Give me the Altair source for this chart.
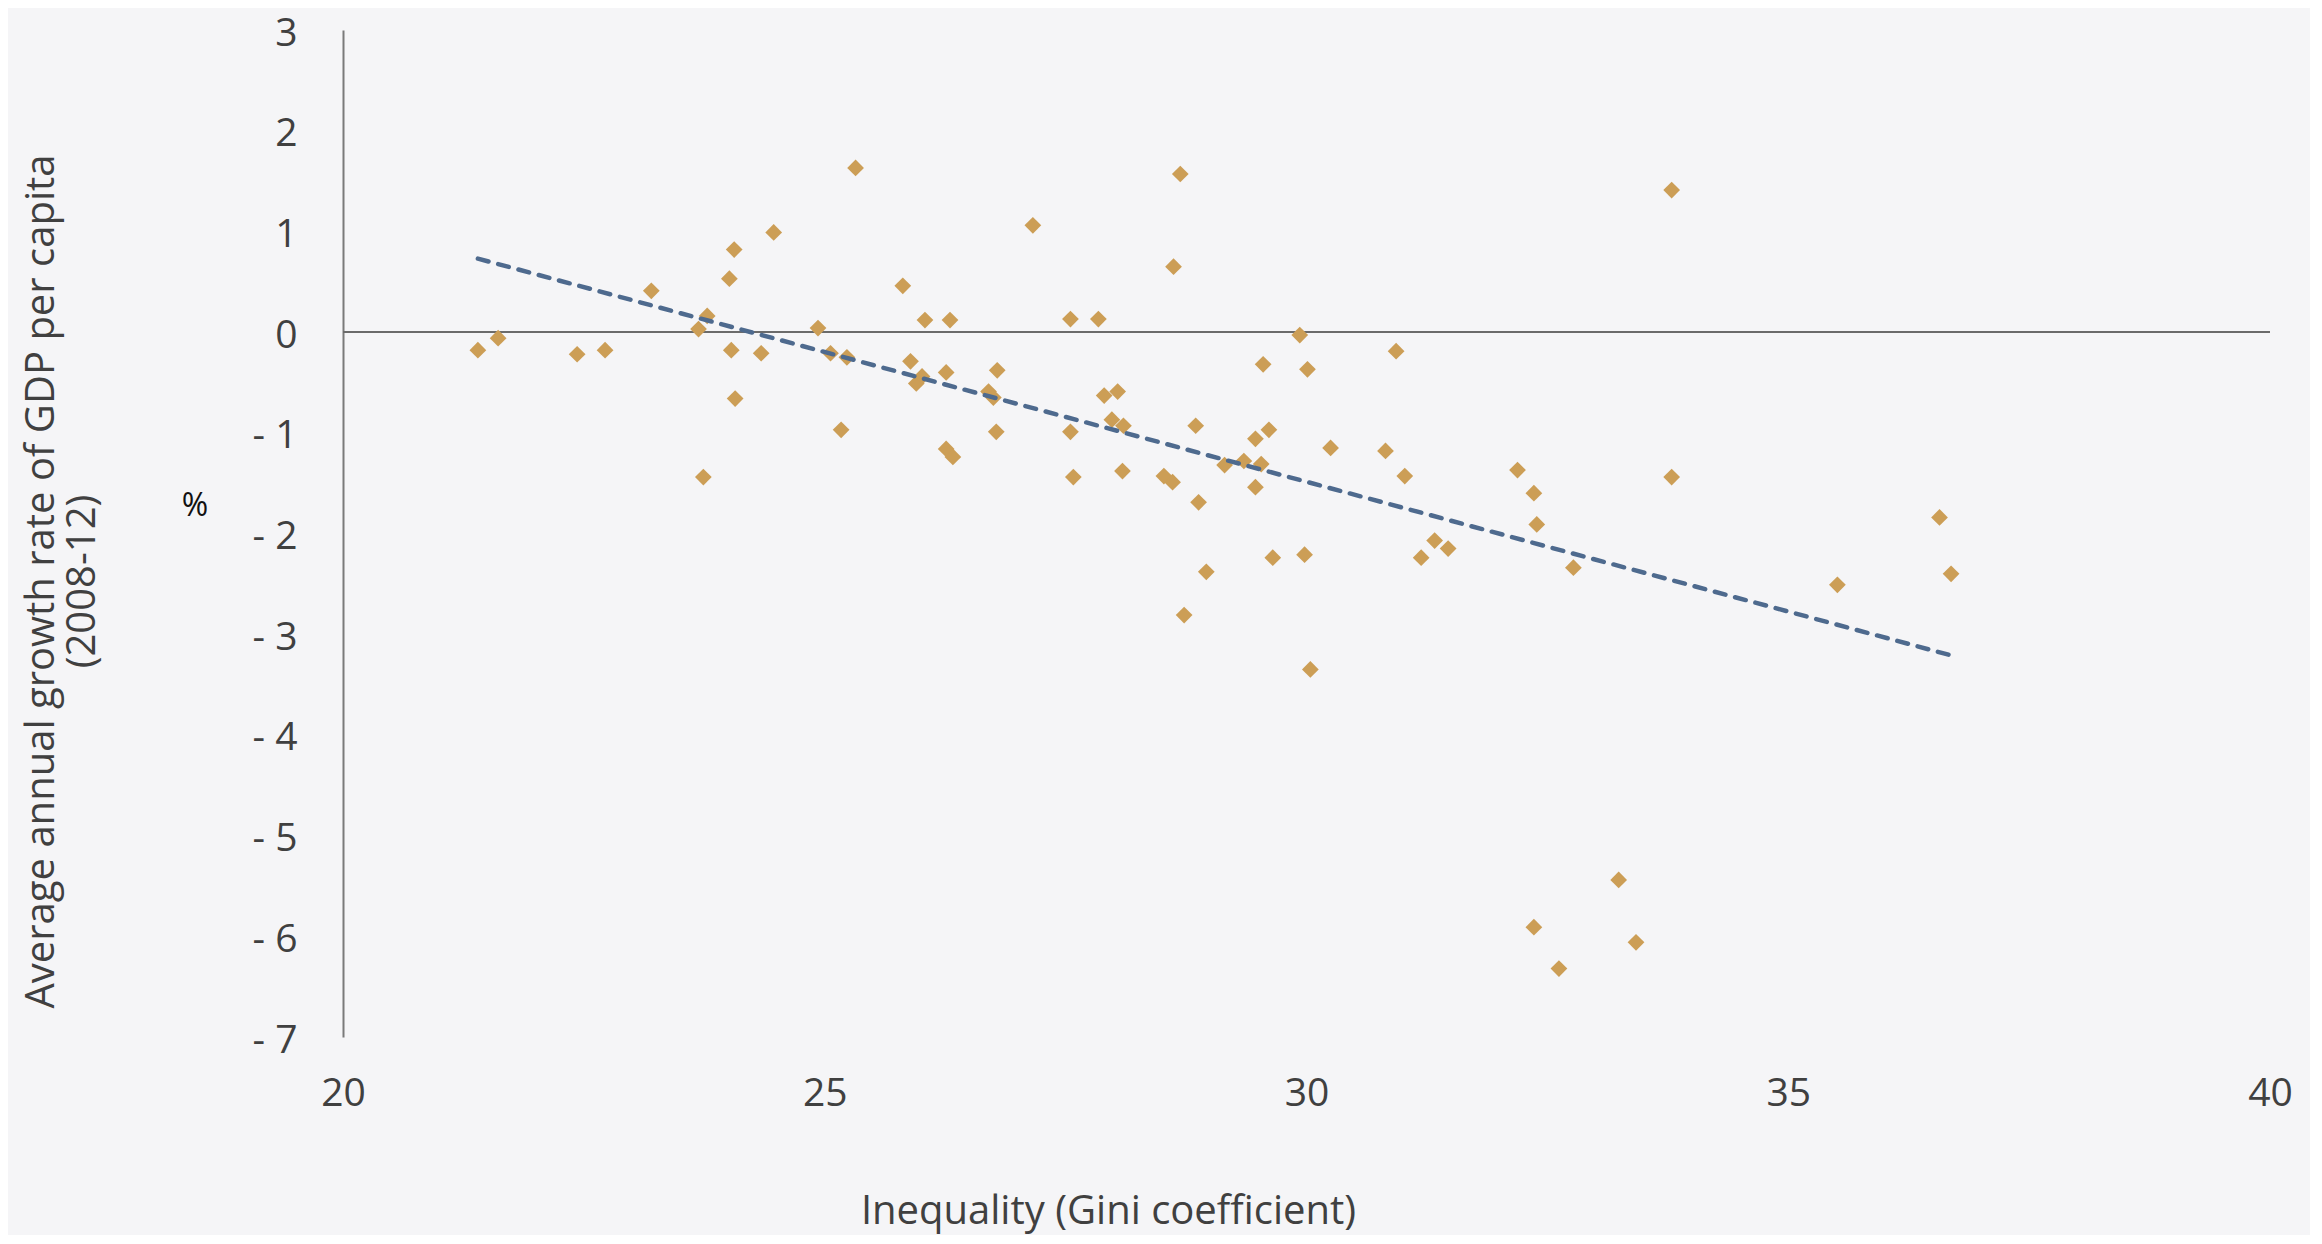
import altair as alt
import pandas as pd

gini = [21.40, 21.61, 22.43, 22.72, 23.20, 23.69, 23.78, 23.74, 24.01, 24.03,
        24.06, 24.07, 24.34, 24.47, 24.93, 25.06, 25.17, 25.23, 25.32, 25.81,
        25.89, 25.95, 26.01, 26.04, 26.26, 26.26, 26.30, 26.33, 26.70, 26.75,
        26.79, 26.78, 27.16, 27.55, 27.55, 27.58, 27.84, 27.90, 27.98, 28.04,
        28.10, 28.09, 28.52, 28.61, 28.62, 28.69, 28.73, 28.85, 28.88, 28.96,
        29.15, 29.35, 29.47, 29.47, 29.53, 29.55, 29.61, 29.65, 29.93, 29.98,
        30.01, 30.04, 30.25, 30.82, 30.93, 31.02, 31.19, 31.33, 31.47, 32.19,
        32.36, 32.39, 32.36, 32.62, 32.77, 33.24, 33.42, 33.79, 33.79, 35.51,
        36.57, 36.69]
growth = [-0.18, -0.06, -0.22, -0.18, 0.41, 0.03, 0.16, -1.44, 0.53, -0.18,
          0.82, -0.66, -0.21, 0.99, 0.04, -0.21, -0.97, -0.25, 1.63, 0.46,
          -0.29, -0.51, -0.44, 0.12, -0.40, -1.16, 0.12, -1.24, -0.59, -0.65,
          -0.38, -0.99, 1.06, 0.13, -0.99, -1.44, 0.13, -0.63, -0.87, -0.59,
          -0.93, -1.38, -1.43, -1.49, 0.65, 1.57, -2.81, -0.93, -1.69, -2.38,
          -1.32, -1.28, -1.06, -1.54, -1.31, -0.32, -0.97, -2.24, -0.03, -2.21,
          -0.37, -3.35, -1.15, -1.18, -0.19, -1.43, -2.24, -2.07, -2.15, -1.37,
          -1.60, -1.91, -5.91, -6.32, -2.34, -5.44, -6.06, 1.41, -1.44, -2.51,
          -1.84, -2.40]
x_ticks = [20, 25, 30, 35, 40]
y_ticks = [3, 2, 1, 0, -1, -2, -3, -4, -5, -6, -7]

df = pd.DataFrame({"gini": gini, "growth": growth})

FONT = "Open Sans"
TXT = "#404040"

x_enc = alt.X(
    "gini:Q",
    scale=alt.Scale(domain=[20, 40], nice=False, zero=False),
    axis=alt.Axis(
        values=x_ticks, format="d", title="Inequality (Gini coefficient)", grid=False,
        domain=False, ticks=False, tickSize=0, labelPadding=56, labelFlush=False,
        labelBaseline="middle", labelFontSize=39, labelColor=TXT, labelFont=FONT,
        titleFontSize=40, titleFont=FONT, titleColor=TXT, titleFontWeight="normal",
        titleX=765, titleY=174, titleBaseline="middle", titleAlign="center",
    ),
)
y_enc = alt.Y(
    "growth:Q",
    scale=alt.Scale(domain=[-7, 3], nice=False),
    axis=alt.Axis(
        values=y_ticks, grid=False, domain=True, domainColor="#7a7a7a",
        domainWidth=2, ticks=False, tickSize=0, labelPadding=46, labelFlush=False,
        labelBaseline="middle", labelOffset=3, labelFontSize=39, labelColor=TXT,
        labelFont=FONT,
        labelExpr="datum.value < 0 ? '- ' + abs(datum.value) : datum.value",
        title=["Average annual growth rate of GDP per capita", "(2008-12)"],
        titleFontSize=40, titleFont=FONT, titleColor=TXT, titleFontWeight="normal",
        titleLineHeight=41, titleAngle=270, titleBaseline="top",
        titleX=-322, titleY=551, titleAlign="center",
    ),
)

points = alt.Chart(df).mark_point(
    shape="diamond", filled=True, size=280, color="#CC9E56", opacity=1
).encode(x=x_enc, y=y_enc)

trend = alt.Chart(df).transform_regression("gini", "growth").mark_line(
    color="#4E6A8E", strokeWidth=4.5, strokeDash=[11, 10], strokeCap="round"
).encode(x="gini:Q", y="growth:Q")

zero = alt.Chart(pd.DataFrame({"y": [0]})).mark_rule(
    color="#6b6b6b", strokeWidth=2
).encode(y="y:Q")

pct = alt.Chart(pd.DataFrame({"t": ["%"]})).mark_text(
    fontSize=32, font=FONT, color="#111111", align="center", baseline="middle"
).encode(text="t:N", x=alt.value(-148), y=alt.value(476))

chart = alt.layer(zero, points, trend, pct).properties(
    width=1927, height=1007,
    padding={"left": 335, "top": 22, "right": 40, "bottom": 198},
    autosize=alt.AutoSizeParams(type="none"),
    background="#F5F5F7",
).configure_view(stroke=None)

chart.save("out.html", embed_options={"renderer": "svg", "actions": False})
